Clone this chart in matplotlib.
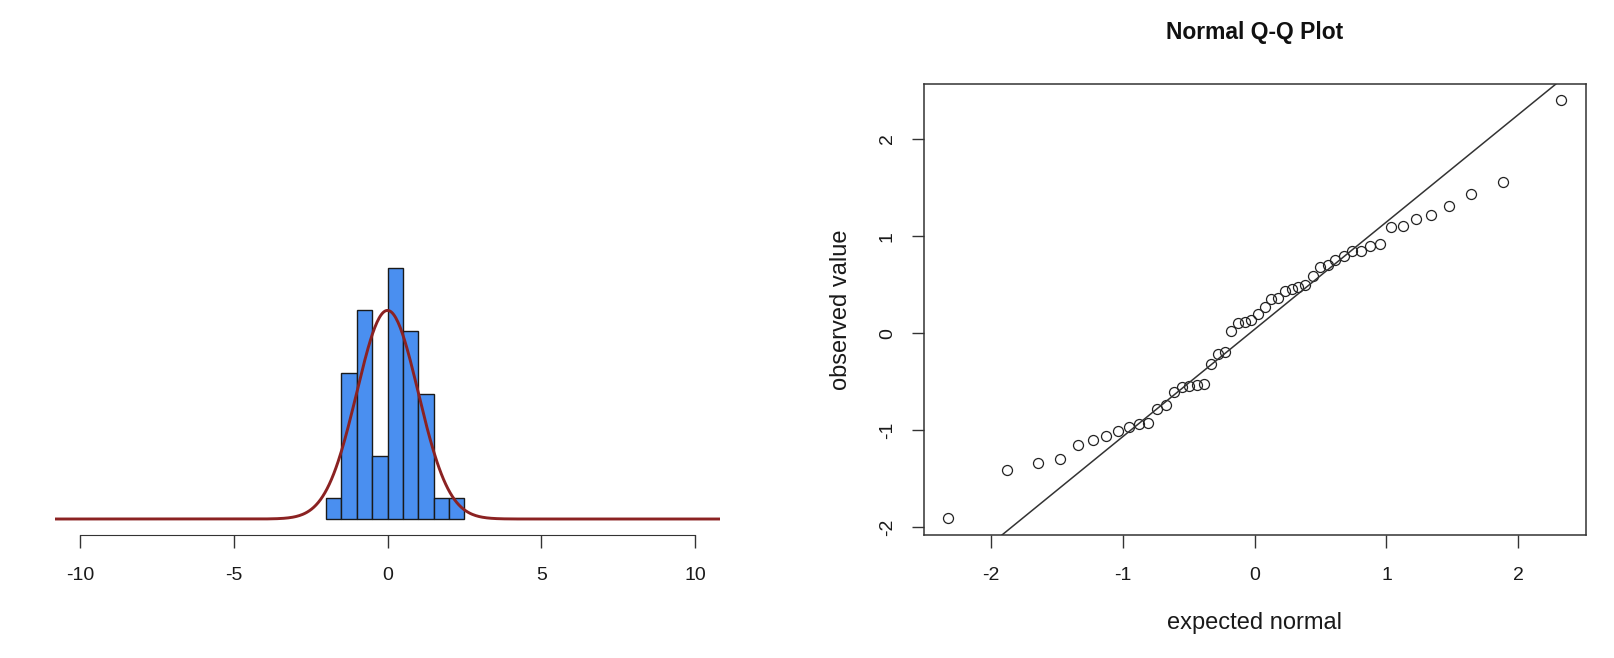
import numpy as np
import matplotlib
matplotlib.use("Agg")
import matplotlib.pyplot as plt
from statistics import NormalDist

plt.rcParams['font.family'] = ['Liberation Sans', 'DejaVu Sans']

# ---- data (sorted sample) ----
observed = [
    -1.908, -1.409, -1.340, -1.292, -1.152, -1.097, -1.063, -1.012,
    -0.968, -0.933, -0.923, -0.786, -0.738, -0.609, -0.554, -0.540,
    -0.530, -0.528,
    -0.315, -0.212, -0.198,
    0.017, 0.103, 0.113, 0.137, 0.195, 0.274, 0.352, 0.358, 0.434,
    0.455, 0.479, 0.499,
    0.588, 0.684, 0.701, 0.752, 0.797, 0.846, 0.850, 0.896, 0.923,
    1.094, 1.104, 1.179, 1.221, 1.306, 1.432,
    1.562,
    2.400,
]
bin_edges = [-2.0, -1.5, -1.0, -0.5, 0.0, 0.5, 1.0, 1.5, 2.0, 2.5]
hist_xticks = [-10, -5, 0, 5, 10]
hist_xlim = [-10.8, 10.8]
curve_mean = 0.0
curve_sd = 1.0
qq_ticks = [-2, -1, 0, 1, 2]
title_text = "Normal Q-Q Plot"
xlabel_text = "expected normal"
ylabel_text = "observed value"

obs = np.sort(np.array(observed))
n = len(obs)
nd = NormalDist()
theo = np.array([nd.inv_cdf((i + 0.5) / n) for i in range(n)])

W, H = 1614, 658
fig = plt.figure(figsize=(W / 100, H / 100), dpi=100)

bottom_px, top_px = 535, 83.5
ax_b = (H - bottom_px) / H
ax_h = (bottom_px - top_px) / H

# ---------------- left: histogram ----------------
ax1 = fig.add_axes([55.4 / W, ax_b, 664.2 / W, ax_h])
ax1.hist(obs, bins=bin_edges, density=True, color='#4a8ff0',
         edgecolor='#1a1a1a', linewidth=1.0, zorder=2)
xs = np.linspace(hist_xlim[0], hist_xlim[1], 600)
ys = np.exp(-0.5 * ((xs - curve_mean) / curve_sd) ** 2) / (curve_sd * np.sqrt(2 * np.pi))
ax1.plot(xs, ys, color='#8b2222', lw=2.1, zorder=3)
ax1.set_xlim(hist_xlim)
ax1.set_ylim(-0.0306, 0.833)
for s in ['top', 'right', 'left']:
    ax1.spines[s].set_visible(False)
ax1.spines['bottom'].set_bounds(hist_xticks[0], hist_xticks[-1])
ax1.spines['bottom'].set_color('#333333')
ax1.set_yticks([])
ax1.set_xticks(hist_xticks)
ax1.set_xticklabels([str(t) for t in hist_xticks])
ax1.tick_params(axis='x', length=9, width=1, color='#333333', pad=14,
                labelsize=14, labelcolor='#1a1a1a')

# ---------------- right: Q-Q plot ----------------
ax2 = fig.add_axes([923.6 / W, ax_b, 662.2 / W, ax_h])
ax2.plot(theo, obs, linestyle='none', marker='o', markersize=7.2,
         markerfacecolor='none', markeredgecolor='#222222', markeredgewidth=0.9)
q1, q3 = np.percentile(obs, [25, 75])
t1, t3 = nd.inv_cdf(0.25), nd.inv_cdf(0.75)
slope = (q3 - q1) / (t3 - t1)
inter = q1 - slope * t1
xr = theo.max() - theo.min()
xl = (theo.min() - 0.04 * xr, theo.max() + 0.04 * xr)
yr = obs.max() - obs.min()
yl = (obs.min() - 0.04 * yr, obs.max() + 0.04 * yr)
lx = np.array([xl[0] - 1, xl[1] + 1])
ax2.plot(lx, inter + slope * lx, color='#333333', lw=1.1)
ax2.set_xlim(xl)
ax2.set_ylim(yl)
ax2.set_xticks(qq_ticks)
ax2.set_yticks(qq_ticks)
ax2.set_xticklabels([str(t) for t in qq_ticks])
ax2.set_yticklabels([str(t) for t in qq_ticks], rotation=90, va='center')
ax2.tick_params(axis='x', length=9, width=1, color='#333333', pad=14,
                labelsize=14, labelcolor='#1a1a1a')
ax2.tick_params(axis='y', length=9, width=1, color='#333333', pad=11,
                labelsize=14, labelcolor='#1a1a1a')
for s in ax2.spines.values():
    s.set_color('#333333')
    s.set_linewidth(1.1)

ax2.set_xlabel(xlabel_text, fontsize=17, color='#1a1a1a', va='center')
ax2.xaxis.set_label_coords(0.5, (bottom_px - 623) / (bottom_px - top_px))
ax2.set_ylabel(ylabel_text, fontsize=17, color='#1a1a1a', va='center')
ax2.yaxis.set_label_coords((841 - 923.6) / 662.2, 0.5)
ax2.set_title(title_text, fontsize=16.5, fontweight='bold', color='#111111',
              va='center', pad=0, y=(bottom_px - 32) / (bottom_px - top_px))

fig.savefig('out.png', dpi=100, facecolor='white')
